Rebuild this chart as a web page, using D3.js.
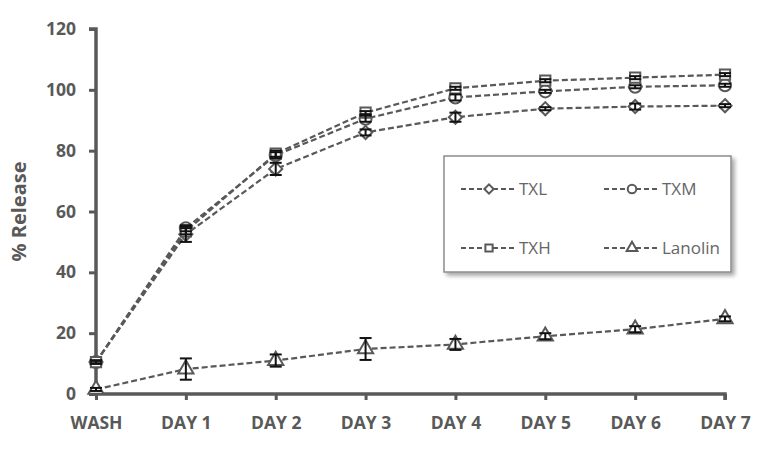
<!DOCTYPE html>
<html>
<head>
<meta charset="utf-8">
<script src="https://cdn.jsdelivr.net/npm/d3@7"></script>
<style>
  body { margin: 0; background: #fff; }
  svg { display: block; }
</style>
</head>
<body>
<div id="chart"></div>
<script>
// data
const days = ['WASH', 'DAY 1', 'DAY 2', 'DAY 3', 'DAY 4', 'DAY 5', 'DAY 6', 'DAY 7'];
const txl = [10.5, 52.5, 74, 86, 91, 93.8, 94.5, 94.8];
const txlErr = [0.5, 2.5, 2, 1, 1.5, 0.5, 1, 0.5];
const txm = [10.5, 54.5, 78.5, 90.5, 97.5, 99.5, 101, 101.5];
const txmErr = [0.5, 1, 1, 1, 1, 0.5, 0.5, 0.5];
const txh = [10.5, 53.5, 79, 92.5, 100.5, 103, 104, 105];
const txhErr = [0.5, 1, 1, 0.5, 0.5, 0.5, 0.5, 0.5];
const lanolin = [1.5, 8.2, 11, 14.8, 16.3, 19, 21.3, 24.7];
const lanolinErr = [0.5, 3.5, 2, 3.6, 1.8, 1, 1, 0.8];
const yTicks = [0, 20, 40, 60, 80, 100, 120];

const series = [
    { name: 'TXL', values: txl, err: txlErr, symbol: d3.symbolDiamond2, size: 110 },
    { name: 'TXM', values: txm, err: txmErr, symbol: d3.symbolCircle, size: 115 },
    { name: 'TXH', values: txh, err: txhErr, symbol: d3.symbolSquare, size: 105 },
    { name: 'Lanolin', values: lanolin, err: lanolinErr, symbol: d3.symbolTriangle, size: 100 }
];

const width = 781, height = 458;
const margin = { left: 96, right: 56, top: 29, bottom: 64 };
const grey = '#595959';
const font = '"Open Sans", "Liberation Sans", sans-serif';

const svg = d3.select('#chart')
    .append('svg')
    .attr('width', width)
    .attr('height', height);

const x = d3.scalePoint()
    .domain(days)
    .range([margin.left, width - margin.right]);

const y = d3.scaleLinear()
    .domain([0, 120])
    .range([height - margin.bottom, margin.top]);

// axes
const yAxis = svg.append('g')
    .attr('transform', 'translate(' + margin.left + ',0)')
    .call(d3.axisLeft(y).tickValues(yTicks).tickSize(7).tickPadding(13));

const xAxis = svg.append('g')
    .attr('transform', 'translate(0,' + (height - margin.bottom) + ')')
    .call(d3.axisBottom(x).tickSize(6).tickPadding(17));

[yAxis, xAxis].forEach(function (ax) {
    ax.select('.domain').attr('stroke', grey).attr('stroke-width', 3.5);
    ax.selectAll('.tick line').attr('stroke', grey).attr('stroke-width', 3);
    ax.selectAll('.tick text')
        .attr('fill', grey)
        .style('font-family', font)
        .style('font-size', '17.5px')
        .style('font-weight', 'bold');
});
yAxis.select('.domain').attr('d', 'M-7,' + y(120) + 'H0V' + y(0));
xAxis.select('.domain').attr('d', 'M' + x(days[0]) + ',0H' + x(days[days.length - 1]) + 'V6');

// axis title
svg.append('text')
    .attr('transform', 'translate(26,' + y(60) + ') rotate(-90)')
    .attr('text-anchor', 'middle')
    .attr('fill', grey)
    .style('font-family', font)
    .style('font-size', '20px')
    .style('font-weight', 'bold')
    .text('% Release');

const line = d3.line()
    .x(function (d, i) { return x(days[i]); })
    .y(function (d) { return y(d); });

const plot = svg.append('g');

series.forEach(function (s) {
    plot.append('path')
        .datum(s.values)
        .attr('fill', 'none')
        .attr('stroke', grey)
        .attr('stroke-width', 2.2)
        .attr('stroke-dasharray', '6,3')
        .attr('d', line);
});

// markers
series.forEach(function (s) {
    plot.selectAll(null)
        .data(s.values)
        .enter()
        .append('path')
        .attr('transform', function (d, i) { return 'translate(' + x(days[i]) + ',' + y(d) + ')'; })
        .attr('d', d3.symbol().type(s.symbol).size(s.size))
        .attr('fill', '#fff')
        .attr('stroke', grey)
        .attr('stroke-width', 2);
});

// error bars
series.forEach(function (s) {
    const g = plot.selectAll(null)
        .data(s.values)
        .enter()
        .append('g')
        .attr('stroke', '#111')
        .attr('stroke-width', 2);
    g.append('line')
        .attr('x1', function (d, i) { return x(days[i]); })
        .attr('x2', function (d, i) { return x(days[i]); })
        .attr('y1', function (d, i) { return y(d + s.err[i]); })
        .attr('y2', function (d, i) { return y(d - s.err[i]); });
    g.append('line')
        .attr('x1', function (d, i) { return x(days[i]) - 6; })
        .attr('x2', function (d, i) { return x(days[i]) + 6; })
        .attr('y1', function (d, i) { return y(d + s.err[i]); })
        .attr('y2', function (d, i) { return y(d + s.err[i]); });
    g.append('line')
        .attr('x1', function (d, i) { return x(days[i]) - 6; })
        .attr('x2', function (d, i) { return x(days[i]) + 6; })
        .attr('y1', function (d, i) { return y(d - s.err[i]); })
        .attr('y2', function (d, i) { return y(d - s.err[i]); });
});

// legend
const defs = svg.append('defs');
const filter = defs.append('filter').attr('id', 'shadow')
    .attr('x', '-5%').attr('y', '-5%').attr('width', '115%').attr('height', '125%');
filter.append('feDropShadow')
    .attr('dx', 3).attr('dy', 3).attr('stdDeviation', 2)
    .attr('flood-color', '#000').attr('flood-opacity', 0.35);

const legend = svg.append('g').attr('transform', 'translate(444,156)');
legend.append('rect')
    .attr('width', 287)
    .attr('height', 116)
    .attr('fill', '#fff')
    .attr('stroke', '#8c8c8c')
    .attr('stroke-width', 1.5)
    .attr('filter', 'url(#shadow)');

const items = legend.selectAll('.item')
    .data(series)
    .enter()
    .append('g')
    .attr('class', 'item')
    .attr('transform', function (d, i) {
        return 'translate(' + (17 + (i % 2) * 143) + ',' + (33 + Math.floor(i / 2) * 59) + ')';
    });

items.append('line')
    .attr('x1', 0).attr('x2', 56)
    .attr('stroke', grey)
    .attr('stroke-width', 2)
    .attr('stroke-dasharray', '5,3');
items.append('path')
    .attr('transform', 'translate(28,0)')
    .attr('d', function (d) { return d3.symbol().type(d.symbol).size(d.size * 0.5)(); })
    .attr('fill', '#fff')
    .attr('stroke', grey)
    .attr('stroke-width', 2);
items.append('text')
    .attr('x', 58)
    .attr('dy', '0.35em')
    .attr('fill', '#666')
    .style('font-family', font)
    .style('font-size', '17px')
    .text(function (d) { return d.name; });
</script>
</body>
</html>
